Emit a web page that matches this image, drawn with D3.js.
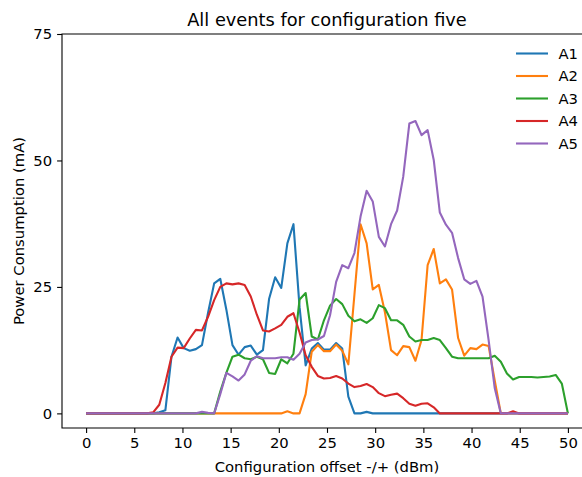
<!DOCTYPE html>
<html>
<head>
<meta charset="utf-8">
<script src="https://cdn.jsdelivr.net/npm/d3@7"></script>
<style>
    body { margin: 0; background: #fff; }
    text { font-family: "DejaVu Sans", sans-serif; }
</style>
</head>
<body>
<div id="my_dataviz"></div>
<script>
// données (80 points entre 0 et 50 dBm)
const nPoints = 80;
const xMax = 50;
const seriesNames = ["A1", "A2", "A3", "A4", "A5"];
const seriesColors = ["#1f77b4", "#ff7f0e", "#2ca02c", "#d62728", "#9467bd"];
const xTicks = [0, 5, 10, 15, 20, 25, 30, 35, 40, 45, 50];
const yTicks = [0, 25, 50, 75];

const a1 = [0, 0, 0, 0, 0, 0, 0, 0, 0, 0, 0, 0,
    0.2, 0.6, 11.2, 15.0, 12.9, 12.4, 12.7, 13.5, 19.9, 25.7, 26.6, 20.5, 13.5, 11.6, 13.1, 13.4,
    11.6, 12.5, 22.6, 26.9, 24.8, 33.6, 37.4, 21.0, 9.5, 12.8, 13.9, 12.6, 12.6, 13.9, 12.8, 3.3,
    0, 0, 0.3,
    0, 0, 0, 0, 0, 0, 0, 0, 0, 0, 0, 0, 0, 0, 0, 0, 0, 0, 0, 0, 0, 0, 0, 0, 0, 0, 0, 0, 0, 0, 0, 0, 0];
const a2 = [0, 0, 0, 0, 0, 0, 0, 0, 0, 0, 0, 0, 0, 0, 0, 0, 0, 0, 0, 0, 0, 0, 0, 0, 0, 0, 0, 0,
    0, 0, 0, 0, 0, 0.4, 0, 0, 3.8, 12.2, 13.5, 12.3, 12.3, 13.6, 12.4, 9.7, 23.5, 37.4, 33.6, 24.5,
    25.4, 20.0, 12.5, 11.5, 13.3, 13.1, 10.4, 14.5, 29.3, 32.5, 25.7, 26.5, 24.5, 14.9, 11.4, 12.9,
    12.7, 13.6, 13.3, 6.5, 0, 0, 0, 0, 0, 0, 0, 0, 0, 0, 0, 0];
const a3 = [0, 0, 0, 0, 0, 0, 0, 0, 0, 0, 0, 0, 0, 0, 0, 0, 0, 0, 0, 0, 0, 0,
    4.3, 8.0, 11.2, 11.6, 10.9, 10.7, 11.2, 10.7, 8.0, 7.8, 10.7, 9.9, 11.8, 22.5, 23.8, 15.2,
    14.6, 18.4, 21.3, 22.6, 21.6, 19.3, 18.2, 18.6, 17.9, 18.8, 21.4, 20.8, 18.4, 18.4, 17.5, 15.2,
    14.2, 14.5, 14.5, 14.9, 14.5, 12.9, 11.2, 10.9, 10.9, 10.9, 10.9, 10.9, 10.9, 11.4, 10.2, 7.9,
    6.7, 7.2, 7.2, 7.2, 7.1, 7.2, 7.3, 7.6, 5.9, 0];
const a4 = [0, 0, 0, 0, 0, 0, 0, 0, 0, 0, 0,
    0.2, 1.7, 6.0, 11.2, 13.0, 12.9, 14.8, 16.5, 16.4, 19.1, 22.4, 25.0, 25.7, 25.5, 25.7, 25.4,
    23.1, 19.5, 16.4, 16.2, 16.8, 17.5, 19.1, 19.8, 16.0, 11.5, 9.2, 7.4, 6.9, 7.0, 7.4, 6.9, 5.9,
    5.2, 5.4, 5.8, 5.2, 4.0, 3.4, 3.7, 3.9, 3.0, 1.9, 1.5, 1.9, 2.0, 1.2,
    0, 0, 0, 0, 0, 0, 0, 0, 0, 0, 0, 0, 0.4, 0, 0, 0, 0, 0, 0, 0, 0, 0];
const a5 = [0, 0, 0, 0, 0, 0, 0, 0, 0, 0, 0, 0, 0, 0, 0, 0, 0, 0, 0,
    0.3, 0.1, 0, 3.8, 8.0, 7.3, 6.5, 7.7, 10.4, 11.3, 10.9, 10.9, 10.9, 11.1, 11.1, 10.6, 11.8,
    14.0, 14.5, 14.6, 15.3, 19.4, 26.0, 29.3, 28.7, 31.7, 38.9, 44.0, 41.9, 34.9, 33.0, 37.4, 40.1,
    46.8, 57.3, 57.8, 55.0, 56.0, 50.1, 39.7, 37.3, 35.7, 30.7, 26.5, 25.6, 26.2, 23.1, 14.5, 5.0,
    0, 0, 0, 0, 0, 0, 0, 0, 0, 0, 0, 0];
const allSeries = [a1, a2, a3, a4, a5];

function drawChart() {
    // dimensions de la figure (la droite du cadre est coupée)
    const width = 582;
    const height = 477;
    const left = 62, right = 592, top = 34, bottom = 428;
    const fontSize = 14.8;

    const svg = d3.select("#my_dataviz")
        .append("svg")
        .attr("width", width)
        .attr("height", height);

    // échelles
    const x = d3.scaleLinear().domain([-2.5, 52.5]).range([left, right]);
    const y = d3.scaleLinear().domain([-2.89, 75]).range([bottom, top]);

    // axes
    const xAxis = svg.append("g")
        .attr("transform", `translate(0,${bottom})`)
        .call(d3.axisBottom(x).tickValues(xTicks).tickSize(4.9).tickPadding(4.5).tickSizeOuter(0));
    const yAxis = svg.append("g")
        .attr("transform", `translate(${left},0)`)
        .call(d3.axisLeft(y).tickValues(yTicks).tickSize(4.9).tickPadding(4.9).tickSizeOuter(0));
    [xAxis, yAxis].forEach(function (g) {
        g.selectAll("text").attr("font-size", fontSize).attr("fill", "#000")
            .attr("font-family", "DejaVu Sans");
        g.selectAll("line").attr("stroke", "#000").attr("stroke-width", 1.1);
        g.select(".domain").remove();
    });

    // cadre (haut, gauche, bas)
    svg.append("path")
        .attr("d", `M${right + 5},${top}H${left}V${bottom}H${right + 5}`)
        .attr("fill", "none")
        .attr("stroke", "#000")
        .attr("stroke-width", 1.1);

    // courbes
    const line = d3.line()
        .x(function (d, i) { return x(i * xMax / (nPoints - 1)); })
        .y(function (d) { return y(d); });

    svg.selectAll(".serie")
        .data(allSeries)
        .join("path")
        .attr("class", "serie")
        .attr("d", line)
        .attr("fill", "none")
        .attr("stroke", function (d, i) { return seriesColors[i]; })
        .attr("stroke-width", 2.1)
        .attr("stroke-linejoin", "round");

    // légende
    const legend = svg.selectAll(".legend")
        .data(seriesNames)
        .join("g")
        .attr("class", "legend")
        .attr("transform", function (d, i) { return `translate(516,${53.5 + i * 22.5})`; });
    legend.append("line")
        .attr("x1", 0).attr("x2", 32)
        .attr("stroke", function (d, i) { return seriesColors[i]; })
        .attr("stroke-width", 2.1);
    legend.append("text")
        .attr("x", 42.5)
        .attr("dy", "0.36em")
        .attr("font-size", fontSize)
        .text(function (d) { return d; });

    // titres
    svg.append("text")
        .attr("x", (left + right) / 2)
        .attr("y", 26)
        .attr("text-anchor", "middle")
        .attr("font-size", 17.8)
        .text("All events for configuration five");
    svg.append("text")
        .attr("x", (left + right) / 2)
        .attr("y", 472)
        .attr("text-anchor", "middle")
        .attr("font-size", fontSize)
        .text("Configuration offset -/+ (dBm)");
    svg.append("text")
        .attr("transform", `translate(24,${(top + bottom) / 2}) rotate(-90)`)
        .attr("text-anchor", "middle")
        .attr("font-size", fontSize)
        .text("Power Consumption (mA)");
}

drawChart();
</script>
</body>
</html>
